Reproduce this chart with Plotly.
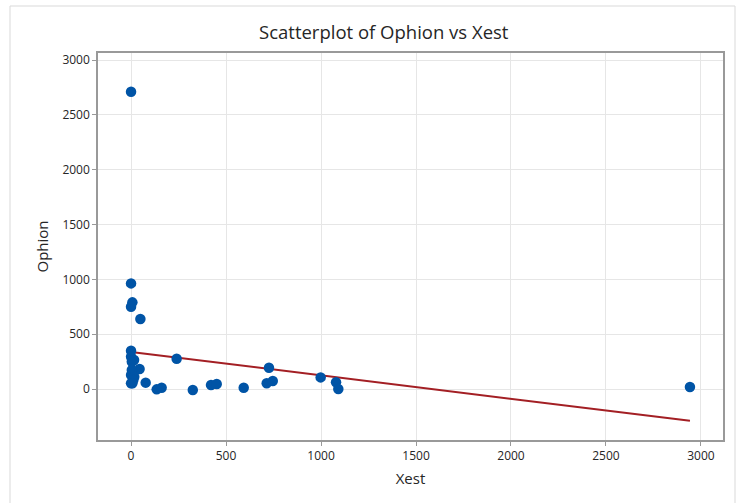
import plotly.graph_objects as go

# Data
xest = [0, 0, 7, 0, 49, 0, 0, 16, 4, 45, 4, 0, 17, 12, 0, 7, 77, 135, 161,
        240, 325, 421, 451, 593, 714, 746, 726, 998, 1079, 1091, 2942]
ophion = [2710, 963, 790, 750, 638, 349, 294, 264, 249, 182, 173, 128, 112, 82, 52, 52, 58, -3, 12,
          276, -9, 36, 45, 12, 52, 73, 194, 106, 61, 0, 18]

# Fitted regression line (intercept, slope)
fit_intercept = 338
fit_slope = -0.2135
fit_x = [min(xest), max(xest)]
fit_y = [fit_intercept + fit_slope * v for v in fit_x]

x_ticks = [0, 500, 1000, 1500, 2000, 2500, 3000]
y_ticks = [0, 500, 1000, 1500, 2000, 2500, 3000]

FONT = "Open Sans"
TXT = "#262626"

fig = go.Figure()
fig.add_trace(go.Scatter(x=fit_x, y=fit_y, mode="lines",
                         line=dict(color="#A31F24", width=2), hoverinfo="skip",
                         showlegend=False))
fig.add_trace(go.Scatter(x=xest, y=ophion, mode="markers",
                         marker=dict(color="#0054A6", size=10.5, line=dict(width=0)),
                         showlegend=False))

axis_common = dict(
    showgrid=True, gridcolor="#E6E6E6", gridwidth=1,
    showline=True, linecolor="#999999", linewidth=1.5, mirror=True,
    ticks="outside", ticklen=4, tickcolor="#999999", tickwidth=1,
    zeroline=False,
    tickfont=dict(family=FONT, size=12, color=TXT),
)

fig.update_layout(
    width=746, height=503,
    margin=dict(l=98, r=23, t=53, b=63),
    paper_bgcolor="white", plot_bgcolor="white",
    font=dict(family=FONT, color=TXT),
    xaxis=dict(range=[-174, 3116], tickvals=x_ticks,
               title=dict(text="Xest", font=dict(family=FONT, size=15, color=TXT), standoff=10),
               **axis_common),
    yaxis=dict(range=[-465, 3064], tickvals=y_ticks,
               title=dict(text="Ophion", font=dict(family=FONT, size=15, color=TXT), standoff=10),
               **axis_common),
    annotations=[dict(text="Scatterplot of Ophion vs Xest", xref="paper", yref="paper",
                      x=0.4576, y=1.0, yshift=22, yanchor="middle", xanchor="center",
                      showarrow=False, font=dict(family=FONT, size=18.5, color=TXT))],
    shapes=[dict(type="rect", xref="paper", yref="paper",
                 x0=(10 - 98) / 625, x1=(735 - 98) / 625,
                 y0=(440 - 510) / 387, y1=(440 - 6) / 387,
                 line=dict(color="#D9D9D9", width=1), layer="below")],
)

fig.write_html("out.html")
